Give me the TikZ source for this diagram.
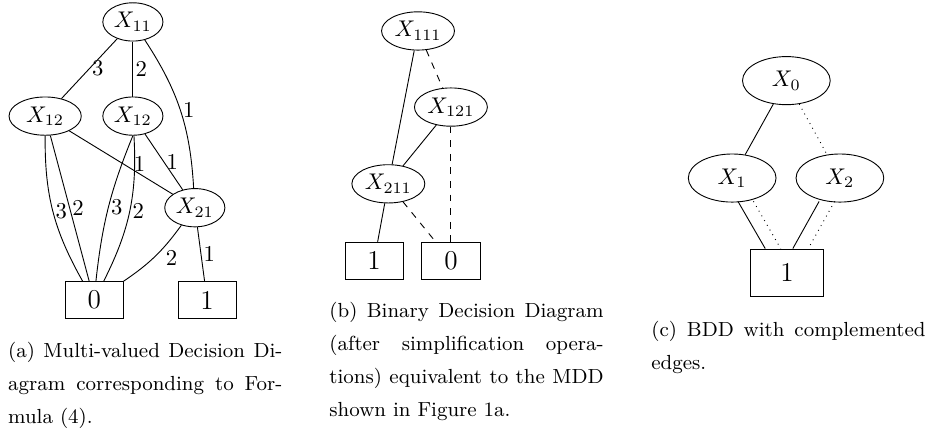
\documentclass[tikz,border=0pt]{standalone}
\usepackage{tikz}
\usetikzlibrary{shapes.geometric}

\begin{document}
\begin{tikzpicture}[
    var/.style={ellipse, draw, inner xsep=1pt, inner ysep=1.8pt},
    bigvar/.style={ellipse, draw, minimum width=1.36cm, minimum height=0.74cm},
    term/.style={rectangle, draw, minimum width=0.9cm, minimum height=0.57cm, font=\large},
    bigterm/.style={rectangle, draw, minimum width=1.12cm, minimum height=0.74cm, font=\large},
    lbl/.style={inner sep=1pt},
    subcap/.style={anchor=north west, inner sep=0pt, text width=4.25cm, align=justify, font=\fontsize{9}{14.5}\selectfont}
]
    \useasboundingbox (0, 0) rectangle (14.37, 6.68);

    % multi-valued diagram
    \node[var] (x11) at (2.06, 6.34) {$X_{11}$};
    \node[var, minimum width=1.12cm] (a12) at (0.70, 4.88) {$X_{12}$};
    \node[var] (b12) at (2.06, 4.88) {$X_{12}$};
    \node[var] (x21) at (3.02, 3.46) {$X_{21}$};
    \node[term] (a0) at (1.46, 2.03) {0};
    \node[term] (a1) at (3.21, 2.03) {1};

    \draw (x11) -- node[lbl, right] {3} (a12);
    \draw (x11) -- node[lbl, right] {2} (b12);
    \draw (x11) to[bend left=15] node[lbl, right] {1} (x21);
    \draw (a12) -- node[lbl, pos=0.68, above] {1} (x21);
    \draw (b12) -- node[lbl, right] {1} (x21);
    \draw (a12.south) to[bend right=15] node[lbl, right] {3} (a0);
    \draw (a12) -- node[lbl, right] {2} (a0);
    \draw (b12.south) to[bend right=8] node[lbl, right] {3} (a0);
    \draw (b12) to[bend left=15] node[lbl, right] {2} (a0);
    \draw (x21) to[bend left=10] node[lbl, pos=0.35, below right] {2} (a0);
    \draw (x21) -- node[lbl, right] {1} (a1);

    % binary diagram
    \node[var] (x111) at (6.48, 6.20) {$X_{111}$};
    \node[var] (x121) at (6.99, 5.02) {$X_{121}$};
    \node[var] (x211) at (6.02, 3.83) {$X_{211}$};
    \node[term] (b1) at (5.80, 2.64) {1};
    \node[term] (b0) at (6.99, 2.64) {0};

    \draw (x111) -- (x211);
    \draw[dashed] (x111) -- (x121);
    \draw (x121) -- (x211);
    \draw[dashed] (x121) -- (b0);
    \draw (x211) -- (b1);
    \draw[dashed] (x211) -- (b0);

    % complemented edges
    \node[bigvar] (x0) at (12.19, 5.43) {$X_0$};
    \node[bigvar] (x1) at (11.35, 3.92) {$X_1$};
    \node[bigvar] (x2) at (13.02, 3.92) {$X_2$};
    \node[bigterm] (c1) at (12.20, 2.45) {1};

    \draw (x0) -- (x1);
    \draw[dotted] (x0) -- (x2);
    \draw[transform canvas={xshift=-0.12cm}] (x1) -- (c1);
    \draw[dotted, transform canvas={xshift=0.12cm}] (x1) -- (c1);
    \draw[transform canvas={xshift=-0.12cm}] (x2) -- (c1);
    \draw[dotted, transform canvas={xshift=0.12cm}] (x2) -- (c1);

    % captions
    \node[subcap] (capa) at (0.12, 1.38) {(a) Multi-valued Decision Di-\linebreak agram corresponding to For-\linebreak mula (4).};
    \node[subcap] (capb) at (5.10, 2.00) {(b) Binary Decision Diagram\linebreak (after simplification opera-\linebreak tions) equivalent to the MDD\linebreak shown in Figure 1a.};
    \node[subcap] (capc) at (10.09, 1.71) {(c) BDD with complemented\linebreak edges.};
\end{tikzpicture}
\end{document}
